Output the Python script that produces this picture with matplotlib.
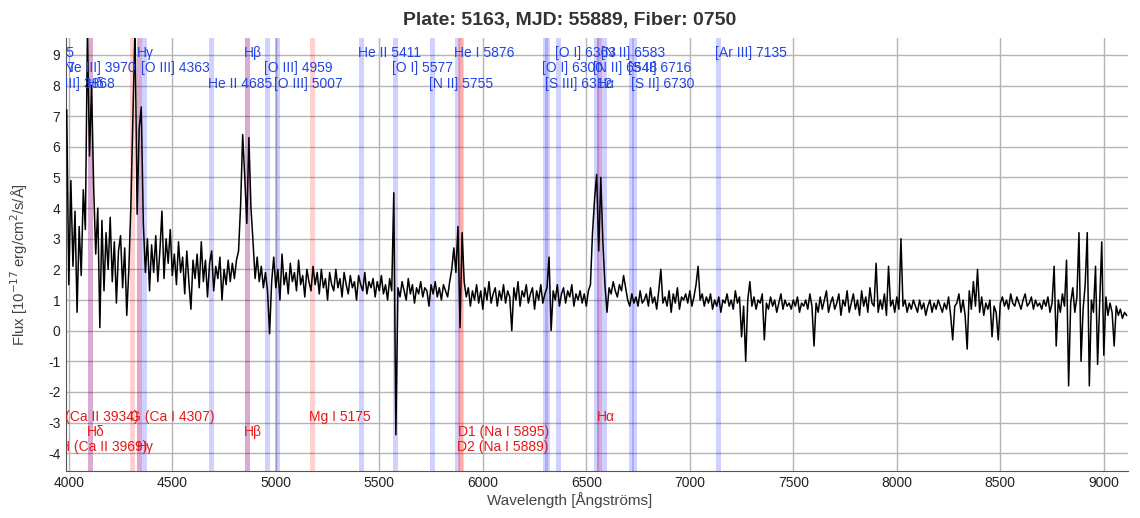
import numpy as np
import matplotlib
matplotlib.use('Agg')
import matplotlib.pyplot as plt

plt.rcParams['font.family'] = ['Liberation Sans', 'DejaVu Sans']
plt.rcParams['axes.unicode_minus'] = False

# DATA
#------------------------
title = 'Plate: 5163, MJD: 55889, Fiber: 0750'
wave_start = 3990
wave_step = 10
# flux, one row per 100 A, starting at 3990 A
flux = [
    7.2, 1.5, 4.9, 2.1, 3.9, 0.6, 3.4, 1.8, 4.6, 3.3,
    9.8, 5.7, 8.0, 4.7, 2.5, 4.0, 0.1, 3.6, 1.3, 3.2,
    2.0, 3.7, 1.6, 2.9, 0.9, 2.6, 3.1, 1.4, 2.7, 0.5,
    2.0, 4.1, 7.1, 9.9, 3.8, 6.6, 7.3, 3.5, 1.9, 3.0,
    1.3, 2.8, 1.9, 3.1, 1.6, 2.6, 3.9, 1.7, 3.0, 2.2,
    3.3, 1.8, 2.5, 1.5, 2.9, 1.9, 2.4, 1.2, 2.6, 1.6,
    0.7, 2.3, 1.7, 2.5, 1.4, 2.9, 1.6, 2.3, 1.1, 2.2,
    2.6, 1.3, 2.1, 1.7, 2.4, 1.0, 2.0, 1.5, 2.3, 1.6,
    2.2, 1.7, 2.3, 2.6, 4.1, 6.4, 5.0, 3.5, 6.3, 4.0,
    2.9, 1.7, 2.4, 1.6, 2.1, 1.4, 1.9, 1.3, -0.1, 1.6,
    2.4, 1.4, 2.0, 1.0, 2.5, 1.5, 1.9, 1.2, 2.2, 1.6,
    1.9, 1.3, 2.3, 1.5, 1.8, 1.1, 2.0, 1.6, 1.3, 2.1,
    1.5, 1.9, 1.2, 2.0, 1.4, 1.7, 1.0, 1.9, 1.5, 1.3,
    2.0, 1.4, 1.7, 1.1, 1.9, 1.5, 1.2, 1.8, 1.4, 1.6,
    1.0, 1.8, 1.5, 1.3, 1.9, 1.2, 1.6, 1.4, 1.7, 1.1,
    1.6, 1.3, 1.8, 1.2, 1.5, 1.0, 1.7, 1.3, 4.5, -3.4,
    1.4, 1.1, 1.6, 1.3, 1.0, 1.7, 1.2, 1.5, 0.9, 1.4,
    1.2, 1.6, 1.1, 1.4, 1.3, 0.8, 1.5, 1.2, 1.6, 1.1,
    1.4, 1.0, 1.5, 1.3, 1.1, 1.6, 2.0, 2.7, 1.9, 3.4,
    0.1, 3.2, 1.6, 1.1, 1.4, 0.8, 1.3, 1.0, 1.5, 0.9,
    1.3, 0.7, 1.4, 1.0, 1.6, 0.9, 1.2, 1.4, 0.8, 1.3,
    1.0, 1.5, 0.9, 1.3, 1.1, 0.0, 1.4, 1.0, 1.6, 0.8,
    1.3, 1.1, 1.5, 0.9, 1.2, 1.4, 0.7, 1.3, 1.0, 1.5,
    0.9, 1.2, 1.4, 2.4, 0.0, 1.3, 1.0, 1.5, 0.8, 1.2,
    1.4, 0.9, 1.3, 1.1, 1.5, 0.8, 1.2, 1.0, 1.3, 0.9,
    1.2, 0.8, 1.3, 1.5, 3.2, 4.3, 5.1, 2.6, 5.0, 2.9,
    1.5, 0.6, 1.4, 1.2, 1.6, 1.3, 1.1, 1.5, 1.3, 1.8,
    1.4, 1.0, 0.8, 1.2, 0.9, 1.1, 0.8, 1.3, 0.9, 1.0,
    1.2, 0.8, 1.4, 0.9, 1.1, 0.7, 1.3, 2.0, 0.9, 1.1,
    0.8, 1.3, 0.6, 1.2, 0.9, 1.4, 0.7, 1.1, 1.0, 1.2,
    0.9, 1.3, 0.8, 1.1, 1.5, 2.1, 1.0, 1.2, 0.8, 1.1,
    0.9, 1.2, 0.7, 1.0, 0.8, 1.1, 0.6, 1.0, 0.9, 1.2,
    0.8, 1.0, 0.7, 1.3, 0.9, 1.1, -0.2, 0.8, -1.0, 1.0,
    1.6, 0.8, 1.1, 0.7, 1.0, 0.9, 1.2, -0.3, 0.9, 0.7,
    1.1, 0.8, 1.0, 0.6, 0.9, 1.2, 0.7, 1.0, 0.8, 0.9,
    0.7, 1.0, 0.8, 1.1, 0.6, 0.9, 0.8, 1.0, 0.7, 1.2,
    0.8, -0.5, 0.9, 0.6, 1.1, 0.7, 1.0, 1.3, 0.6, 0.9,
    1.1, 0.7, 0.9, 1.2, 0.5, 1.0, 0.8, 1.3, 0.6, 0.9,
    1.2, 0.7, 1.0, 0.5, 1.3, 0.8, 1.1, 0.6, 1.4, 0.9,
    0.8, 2.2, 0.6, 1.0, 0.7, 1.2, 0.5, 2.1, 0.8, 1.0,
    0.6, 1.1, 0.7, 3.0, 0.8, 1.0, 0.6, 0.9, 0.7, 1.0,
    0.8, 0.6, 1.0, 0.7, 0.9, 0.5, 0.8, 1.0, 0.6, 0.9,
    0.7, 1.0, 0.8, 0.6, 0.9, 0.7, 1.1, 0.5, -0.3, 0.8,
    0.9, 1.2, 0.6, 1.0, 0.5, -0.6, 1.3, 0.7, 1.6, 0.8,
    2.0, 0.6, 1.1, 0.5, 0.9, 0.7, 1.0, -0.2, 0.8, 0.6,
    -0.3, 0.9, 1.1, 0.8, 1.0, 0.7, 1.2, 0.9, 0.8, 1.1,
    0.9, 0.7, 1.0, 1.2, 0.8, 0.9, 1.1, 0.7, 1.0, 0.8,
    0.9, 0.7, 1.0, 0.8, 1.1, 0.6, 0.9, 2.1, -0.5, 1.0,
    0.6, 1.2, 0.8, 2.3, -1.8, 0.9, 1.4, 0.6, 1.1, 3.2,
    -1.0, 0.7, 1.5, 3.2, -1.8, 1.0, 0.6, 2.1, -1.1, 0.9,
    2.9, -0.8, 1.1, 0.5, 0.9, 0.6, -0.5, 0.8, 0.5, 0.7,
    0.4, 0.6, 0.5,
]
wave = wave_start + wave_step * np.arange(len(flux))

# emission lines: label, wavelength, text row (0 top)
em_names = ['[O II] 3725', '[O II] 3727', '[Ne III] 3868', '[Ne III] 3970', 'H\u03b4',
            'H\u03b3', '[O III] 4363', 'He II 4685', 'H\u03b2', '[O III] 4959',
            '[O III] 5007', 'He II 5411', '[O I] 5577', '[N II] 5755', 'He I 5876',
            '[O I] 6300', '[S III] 6312', '[O I] 6363', '[N II] 6548', 'H\u03b1',
            '[N II] 6583', '[S II] 6716', '[S II] 6730', '[Ar III] 7135']
em_waves = [3726.0, 3728.8, 3868.8, 3970.1, 4101.7, 4340.5, 4363.2, 4685.7, 4861.3, 4958.9,
            5006.8, 5411.5, 5577.3, 5754.6, 5875.6, 6300.3, 6312.1, 6363.8, 6548.1, 6562.8,
            6583.4, 6716.4, 6730.8, 7135.8]
em_rows = [0, 1, 2, 1, 2, 0, 1, 2, 0, 1, 2, 0, 1, 2, 0, 1, 2, 0, 1, 2, 0, 1, 2, 0]

# absorption lines
ab_names = ['K (Ca II 3934)', 'H (Ca II 3969)', 'H\u03b4', 'G (Ca I 4307)', 'H\u03b3',
            'H\u03b2', 'Mg I 5175', 'D2 (Na I 5889)', 'D1 (Na I 5895)', 'H\u03b1']
ab_waves = [3934.8, 3969.6, 4101.7, 4307.7, 4340.5, 4861.3, 5175.3, 5889.9, 5895.9, 6562.8]
ab_rows = [0, 2, 1, 0, 2, 1, 0, 2, 1, 0]
#------------------------

em_row_y = [9.06, 8.57, 8.05]
ab_row_y = [-2.81, -3.30, -3.79]
em_col = '#2244e8'
ab_col = '#e81818'

fig = plt.figure(figsize=(11.4, 5.18), dpi=100)
ax = fig.add_axes([0.0579, 0.0913, 0.9316, 0.8353])

for w in em_waves:
    ax.axvline(w, color='blue', alpha=0.18, lw=3.6, zorder=1)
for w in ab_waves:
    ax.axvline(w, color='red', alpha=0.18, lw=3.6, zorder=1)

ax.plot(wave, flux, color='black', lw=1.1, zorder=3)

for name, w, r in zip(em_names, em_waves, em_rows):
    ax.text(w - 14, em_row_y[r], name, color=em_col, fontsize=10,
            ha='left', va='center', clip_on=True, zorder=4)
for name, w, r in zip(ab_names, ab_waves, ab_rows):
    ax.text(w - 14, ab_row_y[r], name, color=ab_col, fontsize=10,
            ha='left', va='center', clip_on=True, zorder=4)

ax.set_xlim(3986.5, 9117)
ax.set_ylim(-4.57, 9.55)
ax.set_xticks(np.arange(4000, 9001, 500))
ax.set_yticks(np.arange(-4, 10, 1))
ax.grid(True, color='#b4b4b4', lw=1.0, zorder=0)
ax.set_axisbelow(True)
ax.tick_params(length=0, labelsize=10, colors='#222222', pad=4)
for s in ['top', 'right']:
    ax.spines[s].set_visible(False)
for s in ['left', 'bottom']:
    ax.spines[s].set_color('#555555')

# title and axis labels are centred on the figure, not the axes
fig.text(0.5, 0.961, title, fontsize=14, fontweight='bold', color='#333333',
         ha='center', va='center')
fig.text(0.5, 0.034, 'Wavelength [\u00c5ngstr\u00f6ms]', fontsize=11, color='#444444',
         ha='center', va='center')
fig.text(0.017, 0.49, 'Flux [10$^{-17}$ erg/cm$^2$/s/\u00c5]', fontsize=10.7, color='#444444',
         ha='center', va='center', rotation=90)

fig.savefig('out.png', dpi=100)
